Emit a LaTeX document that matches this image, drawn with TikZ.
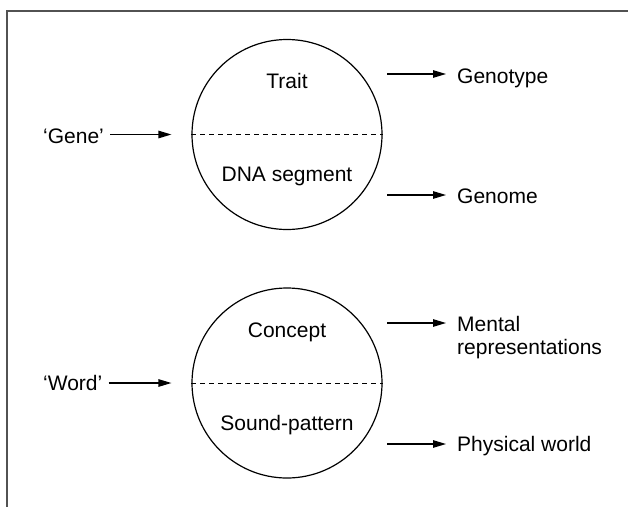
\documentclass[tikz,border=0pt]{standalone}
\usepackage{fontspec}
\setmainfont{Liberation Sans}
\usetikzlibrary{arrows.meta}
\begin{document}
\begin{tikzpicture}[x=1pt,y=-1pt,
  lbl/.style={font=\fontsize{21}{24}\selectfont, inner sep=0pt, anchor=base west},
  ctr/.style={font=\fontsize{21}{24}\selectfont, inner sep=0pt, anchor=base},
  bubble/.style={draw, circle, line width=1.2pt, minimum size=190pt, inner sep=0pt},
  arr/.style={line width=1.2pt, -{Triangle[length=13pt,width=7.5pt]}},
  divider/.style={line width=1pt, dash pattern=on 5pt off 4pt},
  frame/.style={draw=black!68, line width=1.6pt}]
\useasboundingbox (0,0) rectangle (628,506);
\draw[frame] (7,510) -- (7,11) -- (632,11);

% top circle
\node[bubble] (gc) at (287,134.5) {};
\draw[divider] (gc.west) -- (gc.east);
\node[ctr] (trait) at (287,88) {Trait};
\node[ctr] (dna) at (287,181) {DNA segment};
\node[lbl] (gene) at (43,143) {‘Gene’};
\node[lbl] (genotype) at (457,83) {Genotype};
\node[lbl] (genome) at (457,203) {Genome};
\coordinate (g1) at (387,74);
\coordinate (g2) at (387,195);
\draw[arr] ([xshift=6pt]gene.east |- gc.center) -- ([xshift=-20pt]gc.west);
\draw[arr] (g1) -- ([xshift=-11pt]genotype.west |- g1);
\draw[arr] (g2) -- ([xshift=-11pt]genome.west |- g2);

% bottom circle
\node[bubble] (wc) at (287,383) {};
\draw[divider] (wc.west) -- (wc.east);
\node[ctr] (concept) at (287,337) {Concept};
\node[ctr] (sound) at (287,430) {Sound-pattern};
\node[lbl] (word) at (43,390) {‘Word’};
\node[lbl] (mental) at (457,331) {Mental};
\node[lbl] (repr) at (457,354) {representations};
\node[lbl] (phys) at (457,451) {Physical world};
\coordinate (w1) at (387,323);
\coordinate (w2) at (387,444);
\draw[arr] ([xshift=6pt]word.east |- wc.center) -- ([xshift=-20pt]wc.west);
\draw[arr] (w1) -- ([xshift=-11pt]mental.west |- w1);
\draw[arr] (w2) -- ([xshift=-11pt]phys.west |- w2);
\end{tikzpicture}
\end{document}
